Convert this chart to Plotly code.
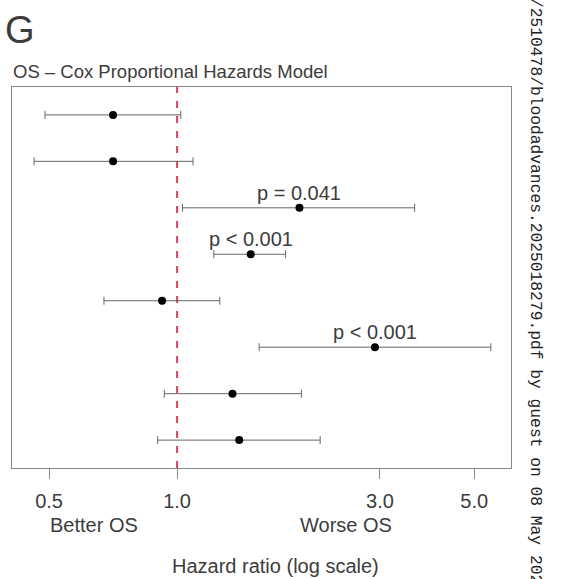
import math
import plotly.graph_objects as go

# ---- data ----
rows = [1, 2, 3, 4, 5, 6, 7, 8]
hr = [0.707, 0.707, 1.94, 1.49, 0.922, 2.92, 1.35, 1.40]
ci_low = [0.489, 0.461, 1.03, 1.22, 0.673, 1.56, 0.933, 0.90]
ci_high = [1.02, 1.09, 3.62, 1.80, 1.26, 5.47, 1.96, 2.17]
p_labels = ["", "", "p = 0.041", "p < 0.001", "", "p < 0.001", "", ""]
tick_vals = [0.5, 1.0, 3.0, 5.0]
tick_text = ["0.5", "1.0", "3.0", "5.0"]
ref_hr = 1.0
y_range = [8.6, 0.4]

W, H = 574, 579
L, R, T, B = 12, 511, 87, 468  # plot area in pixels


def px(xp):
    return (xp - L) / (R - L)


def py(yp):
    return (B - yp) / (B - T)


TXT = "#3c3c3c"
FONT = "Liberation Sans"

fig = go.Figure()

# reference line at HR = 1
fig.add_trace(go.Scatter(
    x=[ref_hr, ref_hr], y=[y_range[0], y_range[1]], mode="lines",
    line=dict(color="#d8435a", width=2, dash="7px,8px"),
    showlegend=False, hoverinfo="skip",
))

fig.add_trace(go.Scatter(
    x=hr, y=rows, mode="markers",
    marker=dict(color="black", size=8),
    error_x=dict(type="data", symmetric=False,
                 array=[h - m for h, m in zip(ci_high, hr)],
                 arrayminus=[m - l for m, l in zip(hr, ci_low)],
                 color="#666666", thickness=1, width=4),
    showlegend=False, hoverinfo="skip",
))

for r, h, t in zip(rows, hr, p_labels):
    if t:
        fig.add_annotation(x=math.log10(h), y=r, xref="x", yref="y", text=t,
                           showarrow=False, yanchor="middle", yshift=15,
                           font=dict(family=FONT, size=20, color=TXT))

annos = [
    dict(text="G", x=px(3), y=py(30), xanchor="left", size=38),
    dict(text="OS \u2013 Cox Proportional Hazards Model", x=px(11), y=py(71),
         xanchor="left", size=18.5),
    dict(text="Better OS", x=px(94), y=py(525), xanchor="center", size=20),
    dict(text="Worse OS", x=px(346), y=py(525), xanchor="center", size=20),
    dict(text="Hazard ratio (log scale)", x=px(275), y=py(566),
         xanchor="center", size=20),
]
for a in annos:
    fig.add_annotation(x=a["x"], y=a["y"], xref="paper", yref="paper",
                       text=a["text"], showarrow=False, xanchor=a["xanchor"],
                       yanchor="middle",
                       font=dict(family=FONT, size=a["size"], color=TXT))

fig.add_annotation(
    x=px(536), y=py(296), xref="paper", yref="paper",
    text="/2510478/bloodadvances.2025018279.pdf by guest on 08 May 2026",
    textangle=90, showarrow=False, xanchor="center", yanchor="middle",
    font=dict(family="Liberation Mono", size=16.3, color="#222222"))

fig.update_xaxes(type="log",
                 range=[math.log10(0.409), math.log10(6.1)],
                 tickvals=tick_vals, ticktext=tick_text,
                 ticks="outside", ticklen=10, tickcolor="#888888",
                 ticklabelstandoff=5,
                 tickfont=dict(family=FONT, size=20, color=TXT),
                 showline=True, mirror=True, linecolor="#888888", linewidth=1,
                 showgrid=False, zeroline=False)
fig.update_yaxes(range=y_range, showticklabels=False, ticks="",
                 showline=True, mirror=True, linecolor="#888888", linewidth=1,
                 showgrid=False, zeroline=False)

fig.update_layout(width=W, height=H,
                  margin=dict(l=L, r=W - R, t=T, b=H - B, pad=0),
                  plot_bgcolor="white", paper_bgcolor="white")

fig.write_html("out.html")
